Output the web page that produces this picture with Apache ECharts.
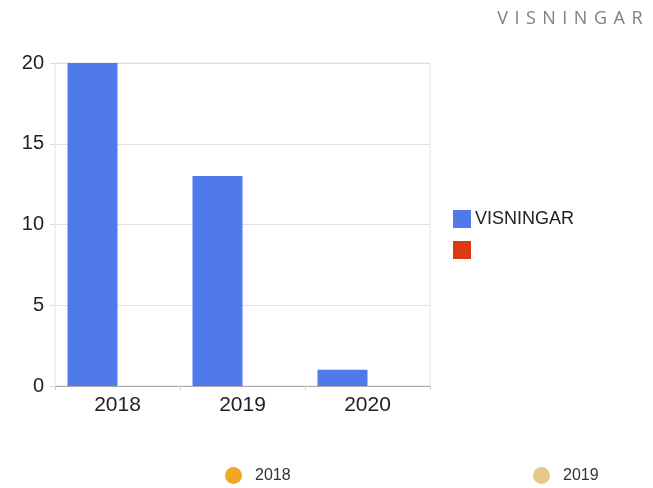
<!DOCTYPE html>
<html>
<head>
<meta charset="utf-8">
<script src="https://cdn.jsdelivr.net/npm/echarts@6/dist/echarts.min.js"></script>
<style>
  html, body { margin: 0; padding: 0; background: #fff; }
  #wrap { position: relative; width: 653px; height: 488px; }
  #main { width: 653px; height: 488px; }
  #title {
    position: absolute; top: 5px; right: 4px;
    font-family: "Open Sans", Lato, sans-serif; font-size: 18px;
    letter-spacing: 6.5px; color: #808080; font-weight: 400;
  }
</style>
</head>
<body>
<div id="wrap">
  <div id="main"></div>
  <div id="title">VISNINGAR</div>
</div>
<script>
const years = ['2018', '2019', '2020'];
const visningar = [20, 13, 1];
const other = [0, 0, 0];
const yTicks = { min: 0, max: 20, interval: 5 };

const chart = echarts.init(document.getElementById('main'));
chart.setOption({
  animation: false,
  textStyle: { fontFamily: 'Liberation Sans, Arial, sans-serif' },
  grid: {
    left: 55, right: 223, top: 63, bottom: 102,
    show: true, borderColor: '#e0e0e0', borderWidth: 1
  },
  legend: [{
    orient: 'vertical', left: 453, top: 210, padding: 0,
    icon: 'rect', itemWidth: 18, itemHeight: 18, itemGap: 13,
    data: ['VISNINGAR', ' '],
    textStyle: { fontSize: 18, color: '#222', padding: [0, 0, 0, -1] }
  }, {
    left: 225, top: 467, padding: 0,
    icon: 'circle', itemWidth: 17, itemHeight: 17,
    data: ['2018'],
    textStyle: { fontSize: 16, color: '#333', padding: [0, 0, 0, 8] }
  }, {
    left: 533, top: 467, padding: 0,
    icon: 'circle', itemWidth: 17, itemHeight: 17,
    data: ['2019'],
    textStyle: { fontSize: 16, color: '#333', padding: [0, 0, 0, 8] }
  }],
  xAxis: {
    type: 'category',
    data: years,
    axisLine: { lineStyle: { color: '#aaa', width: 1 } },
    axisTick: { show: true, length: 4, lineStyle: { color: '#ccc' } },
    axisLabel: { fontSize: 21, color: '#222', margin: 9 }
  },
  yAxis: {
    type: 'value',
    min: yTicks.min, max: yTicks.max, interval: yTicks.interval,
    axisLine: { show: false },
    axisTick: { show: true, length: 5, lineStyle: { color: '#ddd' } },
    axisLabel: { fontSize: 20, color: '#222', margin: 11 },
    splitLine: { lineStyle: { color: '#e0e0e0' } }
  },
  series: [{
    name: 'VISNINGAR',
    type: 'bar',
    data: visningar,
    barGap: '0%',
    barCategoryGap: '20%',
    itemStyle: { color: '#5079E9' }
  }, {
    name: ' ',
    type: 'bar',
    data: other,
    itemStyle: { color: '#DC3912' }
  }, {
    name: '2018', type: 'line', data: [],
    itemStyle: { color: '#F0A822' }
  }, {
    name: '2019', type: 'line', data: [],
    itemStyle: { color: '#E6C98A' }
  }]
});
</script>
</body>
</html>
